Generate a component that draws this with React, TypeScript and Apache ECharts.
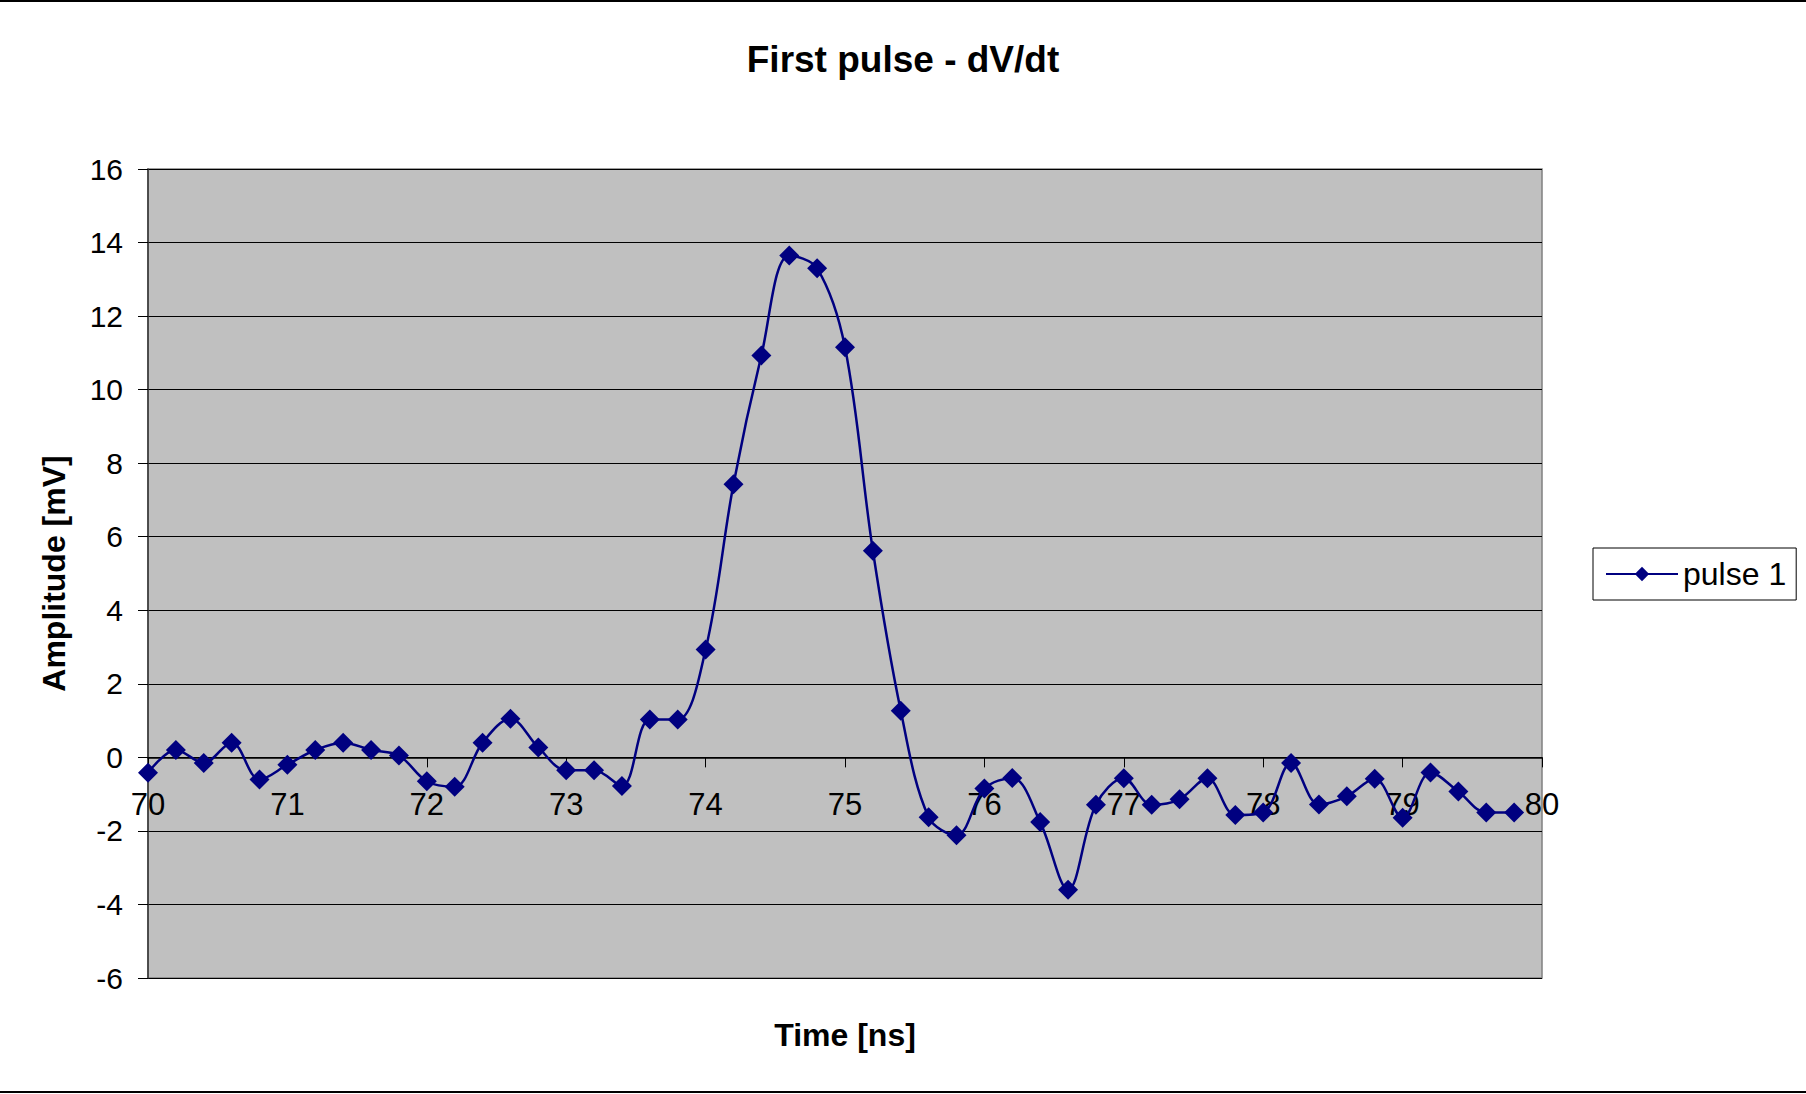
import React, { useEffect, useRef } from "react";
import * as echarts from "echarts";

const TITLE = "First pulse - dV/dt";
const X_TITLE = "Time [ns]";
const Y_TITLE = "Amplitude [mV]";
const SERIES_NAME = "pulse 1";

const times = [
  70.0, 70.2, 70.4, 70.6, 70.8, 71.0, 71.2, 71.4, 71.6, 71.8,
  72.0, 72.2, 72.4, 72.6, 72.8, 73.0, 73.2, 73.4, 73.6, 73.8,
  74.0, 74.2, 74.4, 74.6, 74.8, 75.0, 75.2, 75.4, 75.6, 75.8,
  76.0, 76.2, 76.4, 76.6, 76.8, 77.0, 77.2, 77.4, 77.6, 77.8,
  78.0, 78.2, 78.4, 78.6, 78.8, 79.0, 79.2, 79.4, 79.6, 79.8,
];

const amplitude = [
  -0.42, 0.2, -0.15, 0.4, -0.6, -0.2, 0.2, 0.4, 0.2, 0.05,
  -0.65, -0.8, 0.4, 1.05, 0.27, -0.35, -0.35, -0.78, 1.03, 1.03,
  2.93, 7.43, 10.93, 13.65, 13.3, 11.15, 5.62, 1.27, -1.63, -2.12,
  -0.85, -0.56, -1.76, -3.6, -1.29, -0.57, -1.29, -1.14, -0.57, -1.57,
  -1.5, -0.15, -1.28, -1.06, -0.58, -1.64, -0.41, -0.93, -1.5, -1.5,
];

const FONT = "'Liberation Sans', Arial, Helvetica, sans-serif";

export default function App() {
  const ref = useRef<HTMLDivElement>(null);

  useEffect(() => {
    if (!ref.current) return;
    const chart = echarts.init(ref.current, undefined, { renderer: "svg" });
    const data = times.map((t, i) => [t, amplitude[i]]);
    chart.setOption({
      animation: false,
      backgroundColor: "#ffffff",
      textStyle: { fontFamily: FONT },
      title: {
        text: TITLE,
        left: "center",
        top: 36,
        textStyle: { fontFamily: FONT, fontSize: 37, fontWeight: "bold", color: "#000" },
      },
      legend: {
        data: [SERIES_NAME],
        left: 1593,
        top: 548,
        orient: "vertical",
        backgroundColor: "#ffffff",
        borderColor: "#000000",
        borderWidth: 1,
        borderRadius: 0,
        padding: [10, 10, 10, 12],
        itemWidth: 72,
        itemHeight: 18,
        textStyle: { fontFamily: FONT, fontSize: 32, color: "#000" },
      },
      grid: {
        left: 148,
        top: 169,
        right: 264,
        bottom: 116,
        show: true,
        backgroundColor: "#c0c0c0",
        borderColor: "#808080",
        borderWidth: 1.5,
        containLabel: false,
      },
      xAxis: {
        type: "value",
        min: 70,
        max: 80,
        interval: 1,
        axisLine: { show: true, onZero: true, lineStyle: { color: "#000", width: 1.5 } },
        axisTick: { show: true, inside: false, length: 10, lineStyle: { color: "#000", width: 1 } },
        axisLabel: { margin: -189, fontFamily: FONT, fontSize: 31, color: "#000" },
        splitLine: { show: false },
      },
      yAxis: {
        type: "value",
        min: -6,
        max: 16,
        interval: 2,
        name: Y_TITLE,
        nameLocation: "middle",
        nameGap: 78,
        nameRotate: 90,
        nameTextStyle: { fontFamily: FONT, fontSize: 32, fontWeight: "bold", color: "#000" },
        axisLine: { show: true, onZero: false, lineStyle: { color: "#333", width: 1.5 } },
        axisTick: { show: true, inside: false, length: 10, lineStyle: { color: "#000", width: 1 } },
        axisLabel: { margin: 25, fontFamily: FONT, fontSize: 30, color: "#000" },
        splitLine: { show: true, lineStyle: { color: "#000", width: 1 } },
      },
      graphic: [
        { type: "rect", left: 0, top: 0, shape: { width: 1806, height: 2 }, style: { fill: "#000" } },
        { type: "rect", left: 0, top: 1091, shape: { width: 1806, height: 2 }, style: { fill: "#000" } },
        {
          type: "text",
          x: 845,
          y: 1035,
          style: {
            text: X_TITLE,
            fontFamily: FONT,
            fontSize: 32,
            fontWeight: "bold",
            fill: "#000",
            textAlign: "center",
            textVerticalAlign: "middle",
          },
        },
      ],
      series: [
        {
          name: SERIES_NAME,
          type: "line",
          data,
          smooth: 0.35,
          symbol: "diamond",
          symbolSize: 20,
          showAllSymbol: true,
          lineStyle: { color: "#000080", width: 2.5 },
          itemStyle: { color: "#000080" },
        },
      ],
    });
    return () => chart.dispose();
  }, []);

  return (
    <div
      ref={ref}
      style={{ position: "fixed", left: 0, top: 0, width: 1806, height: 1094 }}
    />
  );
}
